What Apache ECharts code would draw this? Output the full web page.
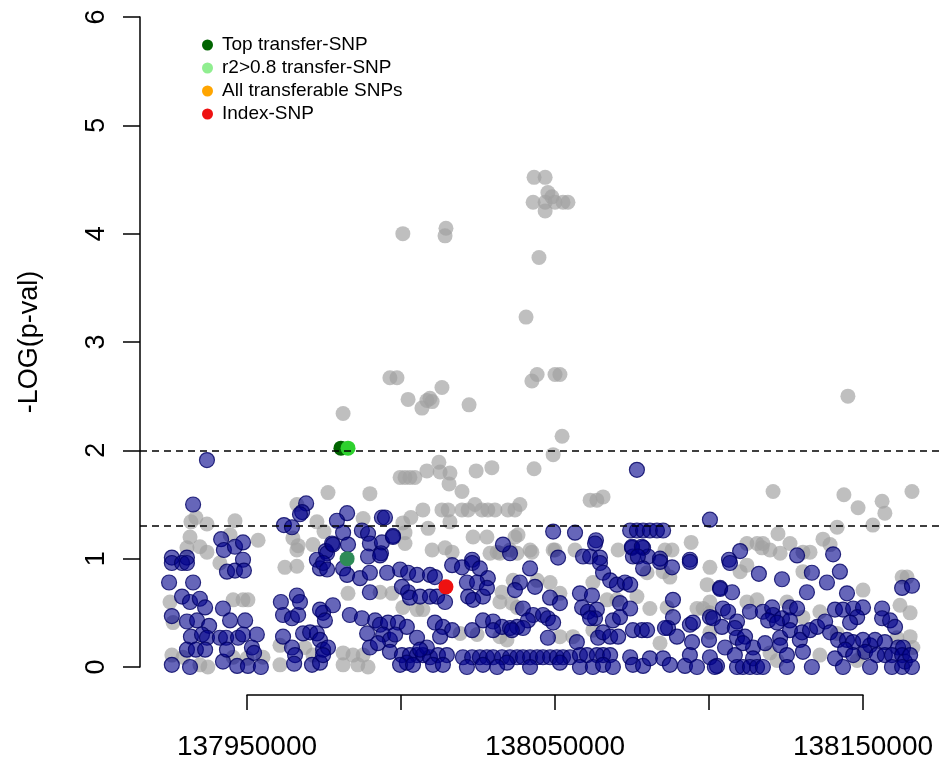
<!DOCTYPE html>
<html>
<head>
<meta charset="utf-8">
<title>-LOG(p-val) regional plot</title>
<script src="https://cdn.jsdelivr.net/npm/echarts@6/dist/echarts.min.js"></script>
<style>
  html, body { margin: 0; padding: 0; background: #fff; }
  #chart { width: 943px; height: 766px; }
</style>
</head>
<body>
<div id="chart"></div>
<script>
// [position (bp), -log10(p)]
const graySnps = [
  [138043200,4.52],[138046800,4.52],[138047700,4.38],[138049000,4.34],[138042900,4.29],[138046800,4.29],[138050000,4.29],[138052600,4.29],[138054200,4.29],[138046800,4.21],
  [138000600,4.00],[138014600,4.05],[138014300,3.98],[138044800,3.78],[138040600,3.23],[137996400,2.67],[137998700,2.67],[138013300,2.58],[138002300,2.47],[138008400,2.46],
  [138010100,2.45],[138009400,2.48],[138006800,2.39],[138022100,2.42],[138042500,2.64],[138044200,2.70],[138050000,2.70],[138051600,2.70],[137981200,2.34],[138145100,2.50],
  [138052300,2.13],[138049400,1.96],[137999700,1.75],[138001300,1.75],[138002900,1.75],[138004500,1.75],[138008400,1.81],[138012300,1.89],[138012700,1.80],[138015900,1.79],
  [138024400,1.81],[138029500,1.84],[138043200,1.83],[138015600,1.69],[138019800,1.62],[138061400,1.54],[138063600,1.54],[138065600,1.57],[137976300,1.61],[137989900,1.60],
  [137966200,1.50],[138007100,1.45],[138013300,1.45],[138015300,1.45],[138019800,1.45],[138021800,1.45],[138024000,1.50],[138026300,1.45],[138028200,1.45],[138030500,1.45],
  [138034700,1.45],[138037000,1.45],[138038600,1.50],[138003200,1.38],[138000600,1.33],[138015900,1.34],[138008800,1.28],[138001300,1.24],[138001300,1.14],[138023400,1.20],
  [138027900,1.20],[138037000,1.20],[138038000,1.22],[138010100,1.08],[138014300,1.10],[138016600,1.06],[138028900,1.05],[138031200,1.06],[138035400,1.08],[138042500,1.06],
  [138050000,1.08],[138056500,1.08],[138070500,1.08],[137987700,1.37],[137972700,1.34],[137946100,1.35],[137937000,1.32],[137933400,1.38],[137931800,1.34],[137931500,1.20],
  [137934700,1.11],[137930500,1.10],[137937000,1.06],[137944500,1.22],[137953600,1.17],[137964900,1.19],[137966600,1.12],[137966200,1.08],[137971400,1.13],[137975000,1.25],
  [138120800,1.62],[138143800,1.59],[138148400,1.47],[138156200,1.53],[138157100,1.42],[138165900,1.62],[138141600,1.29],[138153200,1.31],[138094200,1.15],[138112300,1.14],
  [138117500,1.14],[138122400,1.23],[138126300,1.14],[138137000,1.18],[138139300,1.13],[138132800,1.06],[138130500,1.06],[138119800,1.08],[138117200,1.10],[138085700,1.08],
  [138088000,1.08],[137962300,0.92],[137966200,0.93],[137941200,0.96],[137925000,0.60],[137945500,0.62],[137948700,0.62],[137950300,0.62],[137926000,0.41],[137925600,0.11],
  [137929200,0.09],[137934700,0.02],[137937300,0.00],[137945500,0.09],[137950000,0.08],[137955200,0.09],[137960700,0.02],[137960700,0.20],[137968800,0.18],[137971400,0.11],
  [138032100,1.05],[137982800,0.68],[137993200,0.69],[137997100,0.68],[138000600,0.55],[138005200,0.53],[138007100,0.53],[138032800,0.69],[138032100,0.60],[137981200,0.13],
  [137984400,0.11],[137987700,0.11],[137981200,0.02],[137986000,0.02],[137989300,0.00],[138019200,0.31],[138024700,0.30],[138032100,0.28],[138034400,0.25],[138036400,0.80],
  [138037700,1.05],[138041900,1.08],[138049400,1.08],[138100300,0.92],[138099400,0.76],[138085100,0.88],[138079900,0.87],[138087300,0.83],[138044200,0.80],[138048400,0.78],
  [138051600,0.68],[138062300,0.78],[138066900,0.62],[138070100,0.62],[138076600,0.65],[138080800,0.54],[138086400,0.55],[138096100,0.54],[138098100,0.54],[138100300,0.50],
  [138100300,0.32],[138051600,0.28],[138055800,0.28],[138062300,0.34],[138084100,0.22],[138037700,0.55],[138036000,0.59],[138115600,1.14],[138123100,1.05],[138112300,0.94],
  [138110100,0.88],[138130500,0.88],[138150000,0.71],[138162700,0.83],[138164300,0.83],[138165300,0.50],[138162000,0.57],[138136000,0.51],[138130500,0.46],[138125300,0.60],
  [138100300,0.60],[138115600,0.62],[138112300,0.60],[138165300,0.28],[138166200,0.18],[138141600,0.31],[138136000,0.11],[138148100,0.06],[138150000,0.13],[138161000,0.27],
  [138119800,0.13],[138122100,0.06]
];

const transferSnps = [
  [137937000,1.91],[137932500,1.50],[137969200,1.51],[137967900,1.43],[137967200,1.41],[137982500,1.42],[137979200,1.35],[137993800,1.38],[137994800,1.38],[137962000,1.31],
  [137964600,1.29],[137981200,1.24],[137987300,1.26],[137989300,1.23],[137997400,1.21],[137941600,1.18],[137942500,1.08],[137946100,1.11],[137948700,1.15],[137977600,1.14],
  [137975600,1.07],[137982800,1.13],[137989900,1.14],[137993800,1.15],[137925600,1.01],[137930500,1.01],[137948700,0.99],[137972700,0.99],[137993500,1.05],
  [138076600,1.82],[138049400,1.25],[138056500,1.24],[138063300,1.17],[138074400,1.26],[138076600,1.26],[138078600,1.26],[138080800,1.26],[138083100,1.26],[138075000,1.10],
  [138078600,1.10],[138075300,1.02],[138080200,1.02],[138051000,1.01],[138059100,1.02],[138061400,1.02],[138064600,1.01],[138023100,0.99],[137997400,1.20],
  [138100300,1.36],[138085100,1.26],[138110100,1.07],[138128600,1.03],[138140300,1.04],[138093800,0.99],[138106500,0.99],[138084100,1.00],
  [137925600,0.96],[137928900,0.96],[137930500,0.96],[137924700,0.78],[137932500,0.78],[137928900,0.65],[137931500,0.60],[137934700,0.63],[137936400,0.55],[137925600,0.47],
  [137930500,0.42],[137933800,0.43],[137937700,0.38],[137931800,0.28],[137935400,0.30],[137937000,0.27],[137930500,0.16],[137933400,0.16],[137936400,0.16],[137925600,0.02],
  [137931500,0.00],[137943500,0.88],[137946100,0.89],[137949000,0.89],[137942200,0.54],[137944500,0.43],[137949400,0.43],[137941200,0.27],[137943200,0.27],[137947100,0.27],
  [137948700,0.30],[137953200,0.30],[137951600,0.18],[137952300,0.13],[137942200,0.05],[137946800,0.01],[137950300,0.01],[137954500,0.00],[137943500,0.16],
  [137961000,0.60],[137961700,0.48],[137964600,0.45],[137966600,0.48],[137966200,0.66],[137967200,0.60],[137961700,0.28],[137964600,0.18],[137965600,0.11],[137965300,0.03],
  [137968200,0.31],[137970500,0.32],[137972700,0.31],[137973700,0.91],[137971100,0.02],[137973700,0.04],[137974700,0.50],[137976000,1.05],
  [137977900,1.13],[137974700,0.96],[137981200,0.91],[137989300,1.02],[137993200,1.03],[137976000,0.90],[137982500,0.85],[137986700,0.82],[137989900,0.87],[137995500,0.87],
  [137999700,0.90],[138002300,0.87],[138005200,0.85],[138009400,0.85],[138011000,0.83],[138016600,0.94],[138019800,0.92],[138023100,0.96],[138025600,0.91],[138028200,0.82],
  [137989900,0.69],[138000300,0.74],[138002300,0.69],[138002900,0.64],[138006200,0.65],[138009400,0.65],[138011700,0.65],[138014300,0.60],[138021400,0.78],[138024700,0.78],
  [138021800,0.65],[138023400,0.62],[138026600,0.65],[138027900,0.73],
  [137973700,0.53],[137977900,0.57],[137975300,0.43],[137983400,0.48],[137987300,0.45],[137991600,0.43],[137993200,0.39],[137995800,0.41],[137999000,0.41],[138001900,0.37],
  [138011000,0.41],[138013600,0.37],[138016600,0.34],[138012700,0.28],[138023100,0.34],[138026600,0.43],[138029900,0.42],[138032800,0.37],[138035400,0.36],[138029900,0.34],
  [137989000,0.31],[137994200,0.30],[137996400,0.25],[137998100,0.30],[138005200,0.27],[137989900,0.18],[137992500,0.22],[137996400,0.14],[137973700,0.25],[137974700,0.16],
  [137976300,0.18],[137974700,0.11],
  [138000300,0.11],[138002900,0.11],[138005200,0.11],[138007100,0.11],[138001900,0.04],[137999700,0.02],[138003900,0.02],[138009400,0.09],[138012000,0.11],[138014900,0.11],
  [138010400,0.02],[138013600,0.02],[138020100,0.09],[138023100,0.09],[138025600,0.09],[138027900,0.09],[138029900,0.09],[138032800,0.09],[138035400,0.09],[138037700,0.09],
  [138021400,0.00],[138026600,0.02],[138034400,0.04],[138031200,0.00],[138008400,0.18],[138006200,0.16],[138035400,1.05],[138033100,1.13],
  [138063000,1.14],[138075000,1.11],[138078200,1.11],[138076900,1.02],[138078600,0.91],[138084100,0.97],[138088000,0.92],[138093800,0.97],[138064600,0.96],[138065600,0.87],
  [138067900,0.80],[138070100,0.76],[138072700,0.78],[138074400,0.76],[138041900,0.91],[138038600,0.78],[138037000,0.71],[138043500,0.74],[138048400,0.64],[138051600,0.59],
  [138058100,0.68],[138062000,0.66],[138058800,0.55],
  [138039600,0.54],[138042900,0.48],[138046100,0.48],[138047700,0.45],[138049400,0.41],[138041200,0.43],[138037700,0.37],[138039600,0.36],[138060700,0.51],[138063600,0.53],
  [138063000,0.45],[138061400,0.45],[138068800,0.43],[138071100,0.59],[138074400,0.54],[138071100,0.46],[138088300,0.62],[138088300,0.46],[138086700,0.36],[138093800,0.39],
  [138094800,0.41],[138100300,0.46],[138103600,0.73],
  [138047700,0.27],[138057100,0.23],[138064000,0.27],[138065600,0.32],[138067900,0.28],[138070500,0.28],[138075300,0.34],[138078200,0.34],[138079900,0.34],[138085700,0.36],
  [138089600,0.28],[138094500,0.23],[138100000,0.25],
  [138039600,0.09],[138041900,0.09],[138044200,0.09],[138046100,0.09],[138048400,0.09],[138050600,0.09],[138052600,0.09],[138054900,0.09],[138058100,0.11],[138060400,0.11],
  [138063600,0.11],[138065600,0.11],[138067900,0.11],[138041900,0.00],[138051600,0.04],[138058100,0.00],[138062300,0.00],[138065600,0.02],[138068800,0.00],[138074400,0.09],
  [138075300,0.02],[138078600,0.01],[138080800,0.08],[138085100,0.08],[138087300,0.02],[138092200,0.01],[138093800,0.11],[138096100,0.00],[138100300,0.09],[138102600,0.01],
  [138036000,0.34],
  [138106800,0.96],[138142500,0.88],[138133400,0.87],[138123700,0.81],[138116200,0.86],[138131800,0.69],[138138300,0.78],[138144800,0.68],[138162700,0.73],[138165900,0.75],
  [138103600,0.72],[138107500,0.69],[138104500,0.54],[138106200,0.51],[138101300,0.45],[138109100,0.42],[138113300,0.51],[138117500,0.51],[138120500,0.55],[138120800,0.48],
  [138123700,0.45],[138126300,0.55],[138128600,0.54],[138119200,0.43],[138122100,0.41],[138126300,0.43],
  [138140900,0.53],[138143500,0.53],[138146800,0.54],[138150000,0.55],[138156200,0.54],[138148100,0.46],[138145800,0.41],[138156200,0.45],[138158800,0.43],[138160400,0.37],
  [138152300,0.20],
  [138104200,0.37],[138108400,0.36],[138109100,0.27],[138111700,0.28],[138114300,0.18],[138118200,0.22],[138105200,0.18],[138108400,0.11],[138111000,0.22],[138114300,0.08],
  [138123100,0.27],[138126300,0.34],[138130200,0.32],[138129500,0.25],[138132800,0.34],[138135100,0.37],[138137700,0.42],[138139300,0.32],[138141900,0.25],[138144800,0.25],
  [138146800,0.23],[138150000,0.25],[138153900,0.25],[138157100,0.23],[138161400,0.18],[138163000,0.18],
  [138123100,0.20],[138125300,0.11],[138130500,0.14],[138140900,0.08],[138144200,0.16],[138146800,0.11],[138150700,0.14],[138154500,0.11],[138157100,0.11],[138159400,0.11],
  [138162700,0.11],[138163600,0.05],[138165300,0.11],
  [138101900,0.00],[138109100,0.00],[138111000,0.00],[138113300,0.00],[138115600,0.00],[138117500,0.00],[138125300,0.00],[138133400,0.00],[138143500,0.00],[138152300,0.00],
  [138159400,0.00],[138162700,0.00],[138165900,0.00]
];

const topTransferSnp = [[137980500, 2.02]];
const r2TransferSnps = [[137982800, 2.02], [137982500, 1.00]];
const allTransferable = [];
const indexSnp = [[138014600, 0.74]];

const thresholds = [2, 1.3];
const xTickLabels = [137950000, 138050000, 138150000];
const legendNames = ['Top transfer-SNP', 'r2>0.8 transfer-SNP', 'All transferable SNPs', 'Index-SNP'];

const FONT = "'Liberation Sans', Arial, Helvetica, sans-serif";
const chart = echarts.init(document.getElementById('chart'));

// r2 points are drawn in two shades in the original
const r2Colors = ['#2ed12e', '#2e8b57'];

const option = {
  animation: false,
  backgroundColor: '#fff',
  textStyle: { fontFamily: FONT },
  grid: [
    { left: 140, right: 0, top: 17, bottom: 99 },
    // only used for the shortened x axis (ticks 137950000..138150000)
    { left: 247, right: 80, top: 17, bottom: 99 }
  ],
  xAxis: [
    { gridIndex: 0, type: 'value', min: 137915260, max: 138175974, show: false },
    {
      gridIndex: 1, type: 'value', min: 137950000, max: 138150000, interval: 50000, offset: 28,
      axisLine: { show: true, onZero: false, lineStyle: { color: '#000', width: 1.5 } },
      axisTick: { show: true, length: 15, lineStyle: { color: '#000', width: 1.5 } },
      axisLabel: {
        margin: 38, fontSize: 28, color: '#000', fontFamily: FONT,
        showMinLabel: true, showMaxLabel: true,
        formatter: (v) => (xTickLabels.includes(v) ? String(v) : '')
      },
      splitLine: { show: false }
    }
  ],
  yAxis: [
    {
      gridIndex: 0, type: 'value', min: 0, max: 6, interval: 1,
      name: '-LOG(p-val)', nameLocation: 'middle', nameRotate: 90, nameGap: 97,
      nameTextStyle: { fontSize: 27, color: '#000', fontFamily: FONT },
      axisLine: { show: true, onZero: false, lineStyle: { color: '#000', width: 1.5 } },
      axisTick: { show: true, length: 17, lineStyle: { color: '#000', width: 1.5 } },
      axisLabel: { rotate: 90, margin: 30, fontSize: 27, color: '#000', fontFamily: FONT },
      splitLine: { show: false }
    },
    { gridIndex: 1, type: 'value', min: 0, max: 6, show: false }
  ],
  legend: {
    data: legendNames,
    orient: 'vertical',
    left: 197,
    top: 30,
    icon: 'circle',
    itemWidth: 11,
    itemHeight: 11,
    itemGap: 3,
    selectedMode: false,
    textStyle: { fontSize: 19, color: '#000', lineHeight: 20, padding: [0, 0, 0, 4], fontFamily: FONT }
  },
  series: [
    {
      name: 'All SNPs',
      type: 'scatter',
      data: graySnps,
      symbolSize: 15,
      clip: false,
      silent: true,
      itemStyle: { color: 'rgba(160,160,160,0.68)', opacity: 1 },
      markLine: {
        silent: true,
        symbol: ['none', 'none'],
        label: { show: false },
        lineStyle: { color: '#000', width: 1.5, type: [7, 5] },
        data: thresholds.map((t) => ({ yAxis: t }))
      }
    },
    {
      name: 'Transfer SNPs',
      type: 'scatter',
      data: transferSnps,
      symbolSize: 15,
      clip: false,
      silent: true,
      itemStyle: { color: 'rgba(0,0,139,0.6)', borderColor: 'rgba(0,0,100,0.8)', borderWidth: 1.2, opacity: 1 }
    },
    {
      name: legendNames[0],
      type: 'scatter',
      data: topTransferSnp,
      symbolSize: 15,
      clip: false,
      itemStyle: { color: '#006400', opacity: 1 }
    },
    {
      name: legendNames[1],
      type: 'scatter',
      data: r2TransferSnps.map((d, i) => ({ value: d, itemStyle: { color: r2Colors[i] } })),
      symbolSize: 15,
      clip: false,
      itemStyle: { color: '#90ee90', opacity: 1 }
    },
    {
      name: legendNames[2],
      type: 'scatter',
      data: allTransferable,
      symbolSize: 15,
      clip: false,
      itemStyle: { color: '#ffa500', opacity: 1 }
    },
    {
      name: legendNames[3],
      type: 'scatter',
      data: indexSnp,
      symbolSize: 15,
      clip: false,
      itemStyle: { color: '#ee1111', opacity: 1 }
    }
  ]
};

chart.setOption(option);
</script>
</body>
</html>
